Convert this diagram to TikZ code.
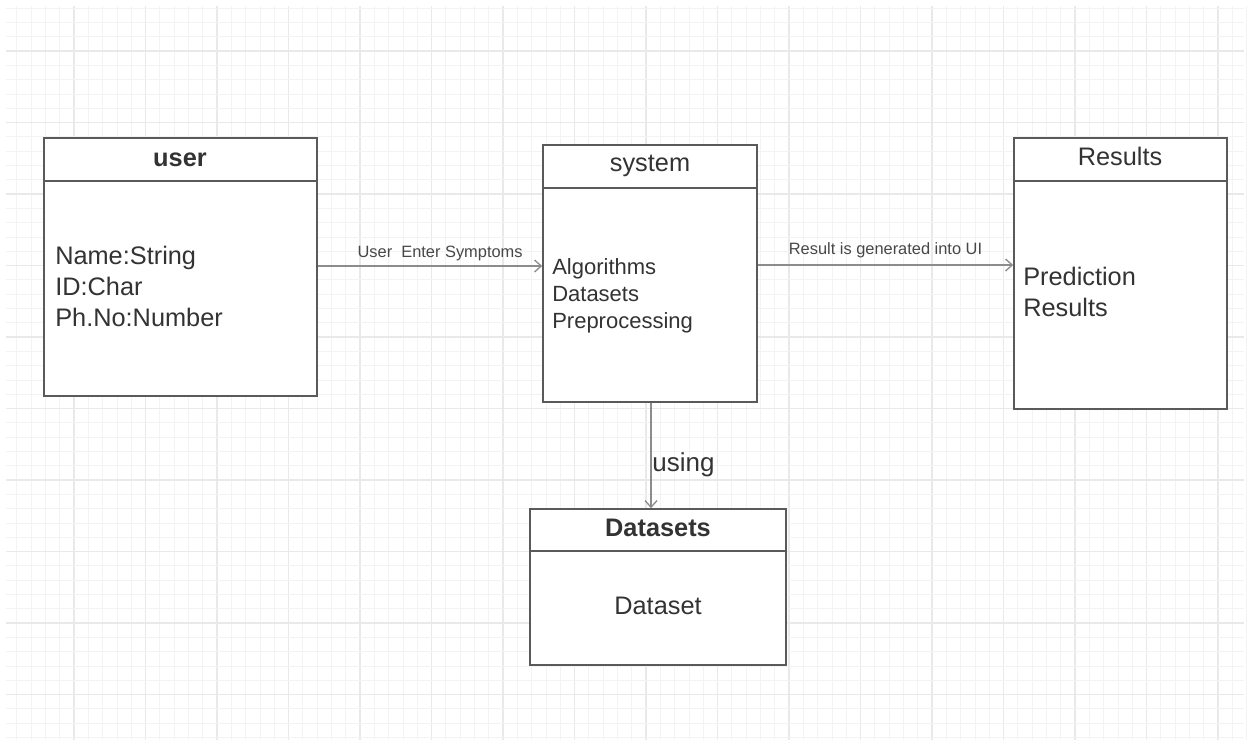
\documentclass[tikz,border=0pt]{standalone}
\usepackage{fontspec}
\setmainfont{Liberation Sans}
\usetikzlibrary{arrows.meta,fit}
\definecolor{boxline}{HTML}{5A5A5A}
\definecolor{txt}{HTML}{333333}
\definecolor{conn}{HTML}{8C8C8C}
\definecolor{gminor}{HTML}{F3F3F3}
\definecolor{gmajor}{HTML}{E9E9E9}
\tikzset{
  umlbox/.style={draw=boxline, line width=1.2pt, inner sep=0pt, fill=white},
  divider/.style={draw=boxline, line width=1.2pt},
  conline/.style={draw=conn, line width=1pt, -{Straight Barb[length=5pt,width=9pt]}},
  bodytext/.style={text=txt, font=\fontsize{19}{22}\selectfont, anchor=base west, inner sep=0pt},
  smalltext/.style={text=txt, font=\fontsize{16.5}{19}\selectfont, anchor=base west, inner sep=0pt},
  titletext/.style={text=txt, font=\fontsize{19}{22}\selectfont, anchor=base, inner sep=0pt},
  boldtitle/.style={titletext, font=\fontsize{19}{22}\selectfont\bfseries},
  edgelabel/.style={text=txt!90, font=\fontsize{12.3}{14}\selectfont, anchor=base, inner sep=0pt},
  gridminor/.style={draw=gminor, line width=0.6pt},
  gridmajor/.style={draw=gmajor, line width=0.9pt}
}
\begin{document}
\begin{tikzpicture}[x=0.75pt,y=-0.75pt]
\useasboundingbox (0,0) rectangle (1249,744);
% grid
\foreach \k in {1,...,87}{
  \pgfmathsetmacro\xx{2.5+14.3*\k}
  \pgfmathtruncatemacro\r{mod(\k,5)}
  \ifnum\r=0 \draw[gridmajor] (\xx,6) -- (\xx,740); \else \draw[gridminor] (\xx,6) -- (\xx,740); \fi
}
\foreach \k in {0,...,51}{
  \pgfmathsetmacro\yy{8.1+14.3*\k}
  \pgfmathtruncatemacro\r{mod(\k,5)}
  \ifnum\r=3 \draw[gridmajor] (6,\yy) -- (1244,\yy); \else \draw[gridminor] (6,\yy) -- (1244,\yy); \fi
}
% boxes
\coordinate (u1) at (44,138); \coordinate (u2) at (317,396);
\node[umlbox, fit=(u1)(u2)] (user) {};
\coordinate (s1) at (543,145); \coordinate (s2) at (757,402);
\node[umlbox, fit=(s1)(s2)] (system) {};
\coordinate (r1) at (1014,138); \coordinate (r2) at (1227,409);
\node[umlbox, fit=(r1)(r2)] (results) {};
\coordinate (d1) at (530,509); \coordinate (d2) at (786,665);
\node[umlbox, fit=(d1)(d2)] (datasets) {};
% dividers
\draw[divider] (user.west |- 0,181) -- (user.east |- 0,181);
\draw[divider] (system.west |- 0,188) -- (system.east |- 0,188);
\draw[divider] (results.west |- 0,181) -- (results.east |- 0,181);
\draw[divider] (datasets.west |- 0,551) -- (datasets.east |- 0,551);
% titles
\node[boldtitle] (usertitle) at (180,166) {user};
\node[titletext] (systitle) at (650,171) {system};
\node[titletext] (restitle) at (1120,165) {Results};
\node[boldtitle] (dstitle) at (658,536) {Datasets};
% bodies
\node[bodytext] (u-a) at (55,264) {Name:String};
\node[bodytext] (u-b) at (55,295) {ID:Char};
\node[bodytext] (u-c) at (55,326) {Ph.No:Number};
\node[smalltext] (s-a) at (552,274) {Algorithms};
\node[smalltext] (s-b) at (552,301) {Datasets};
\node[smalltext] (s-c) at (552,328) {Preprocessing};
\node[bodytext] (r-a) at (1023,285) {Prediction};
\node[bodytext] (r-b) at (1023,316) {Results};
\node[titletext] (d-a) at (658,614) {Dataset};
% connectors
\draw[conline] (user.east |- 0,266) -- node[edgelabel, pos=0.545, yshift=6.5pt] (lab1) {User\ \ Enter Symptoms} (system.west |- 0,266);
\draw[conline] (system.east |- 0,265) -- node[edgelabel, pos=0.5, yshift=8pt] (lab2) {Result is generated into UI} (results.west |- 0,265);
\draw[conline] (system.south -| 651,0) -- node[titletext, anchor=base west, pos=0.65, xshift=0.5pt, font=\fontsize{19.5}{22}\selectfont] (lab3) {using} (datasets.north -| 651,0);
\end{tikzpicture}
\end{document}
